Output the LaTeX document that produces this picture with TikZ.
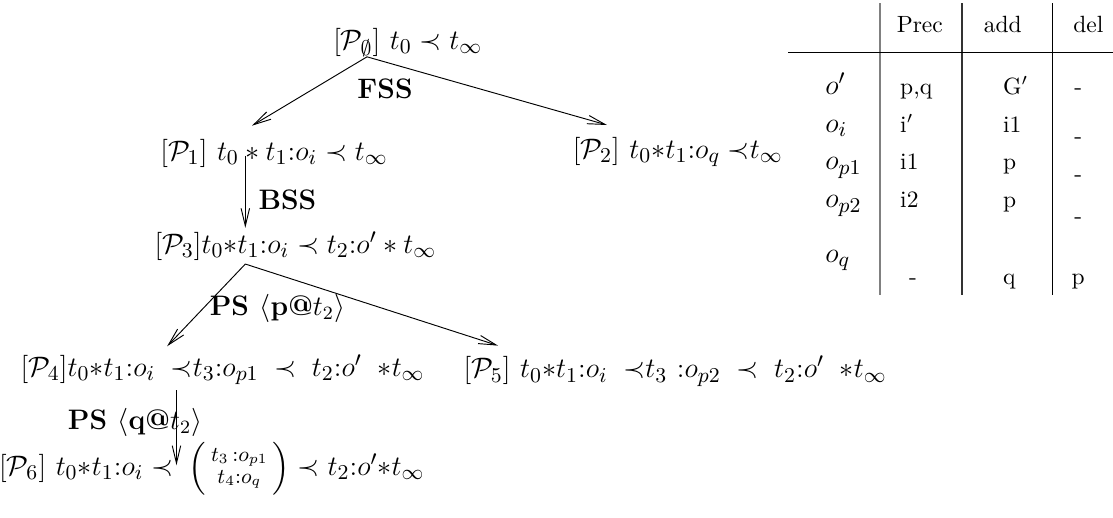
\documentclass[tikz,border=0pt]{standalone}
\usepackage{amsmath, amssymb}
\usepackage{xcolor}
\usepackage{tikz}
\usetikzlibrary{arrows.meta, positioning, calc}

\newcommand{\planfont}{\fontsize{12.5}{15}\selectfont}

\begin{document}
\begin{tikzpicture}[
    plan/.style={inner sep=0pt, font=\planfont},
    rulelbl/.style={inner sep=0pt, font=\fontsize{12}{14}\selectfont\bfseries},
    cell/.style={inner sep=0pt, anchor=base west},
    mid/.style={inner sep=0pt, anchor=base},
    arr/.style={-{Straight Barb[length=7.5pt, width=3.6pt]}}
  ]
  \useasboundingbox (0,0) rectangle (16.65,-7.735);
  % Plans
  \node[plan] (p0) at (6.10,-0.64) {$[\mathcal{P}_\emptyset]\ t_0 \prec t_\infty$};
  \node[plan] (p1) at (4.10,-2.29) {$[\mathcal{P}_1]\ t_0 * t_1{:}o_i \prec t_\infty$};
  \node[plan] (p2) at (10.14,-2.27) {$[\mathcal{P}_2]\ t_0{*}t_1{:}o_q \;{\prec}t_\infty$};
  \node[plan] (p3) at (4.42,-3.68) {$[\mathcal{P}_3]t_0{*}t_1{:}o_i \prec t_2{:}o' * t_\infty$};
  \node[plan] (p4) at (3.33,-5.53) {$[\mathcal{P}_4]t_0{*}t_1{:}o_i \;\;{\prec}t_3{:}o_{p1} \;\prec\; t_2{:}o' \;\;{*}t_\infty$};
  \node[plan] (p5) at (10.10,-5.55) {$[\mathcal{P}_5]\ t_0{*}t_1{:}o_i \;\;{\prec}t_3\ {:}o_{p2} \;\prec\; t_2{:}o' \;\;{*}t_\infty$};
  \node[plan] (p6) at (3.17,-7.01) {$[\mathcal{P}_6]\ t_0{*}t_1{:}o_i \prec\; \left(\begin{smallmatrix} t_3\,:o_{p1}\\ t_4{:}o_q\end{smallmatrix}\right) \prec t_2{:}o'{*}t_\infty$};
  % Step labels
  \node[rulelbl] (fss) at (5.76,-1.33) {FSS};
  \node[rulelbl] (bss) at (4.30,-2.99) {BSS};
  \node[rulelbl] (psp) at (4.15,-4.61) {PS $\langle\textbf{p@}t_2\rangle$};
  \node[rulelbl] (psq) at (2.02,-6.32) {PS $\langle\textbf{q@}t_2\rangle$};
  % Arrow ends
  \coordinate (s0) at (5.49,-0.85);
  \coordinate (h1) at (3.77,-1.88);
  \coordinate (h2) at (9.08,-1.87);
  \coordinate (s1) at (3.67,-2.33);
  \coordinate (h3) at (3.67,-3.41);
  \coordinate (s3) at (3.67,-3.95);
  \coordinate (h4) at (2.50,-5.18);
  \coordinate (h5) at (7.45,-5.17);
  \coordinate (s4) at (2.64,-5.84);
  \coordinate (h6) at (2.64,-6.96);
  \draw[arr] (s0) -- (h1);
  \draw[arr] (s0) -- (h2);
  \draw[arr] (s1) -- (h3);
  \draw[arr] (s3) -- (h4);
  \draw[arr] (s3) -- (h5);
  \draw[arr] (s4) -- (h6);
  % Operator table
  \draw[gray, line width=0.8pt] (13.16,-0.045) -- (13.16,-4.41);
  \draw[black!80, line width=0.6pt] (14.39,-0.045) -- (14.39,-4.41);
  \draw (15.75,-0.045) -- (15.75,-4.41);
  \draw (11.79,-0.78) -- (16.65,-0.78);
  \node[mid] (hprec) at (13.76,-0.48) {Prec};
  \node[mid] (hadd) at (15.00,-0.48) {add};
  \node[mid] (hdel) at (16.28,-0.48) {del};
  \foreach \y/\op [count=\r] in {-1.41/{$o'$}, -1.975/{$o_i$}, -2.54/{$o_{p1}$},
                                 -3.11/{$o_{p2}$}, -3.93/{$o_q$}} {
    \node[cell, font=\planfont] (op\r) at (12.34,\y) {\op};
  }
  \foreach \y/\pre [count=\r] in {-1.41/{p,q}, -1.975/{i$'$}, -2.54/i1, -3.11/i2} {
    \node[cell] (pre\r) at (13.46,\y) {\pre};
  }
  \node[mid] (pre5) at (13.66,-4.26) {-};
  \foreach \y/\ad [count=\r] in {-1.41/{G$'$}, -1.975/i1, -2.54/p, -3.11/p, -4.26/q} {
    \node[cell] (add\r) at (15.00,\y) {\ad};
  }
  \foreach \y/\de [count=\r] in {-1.41/-, -2.14/-, -2.72/-, -3.34/-, -4.26/p} {
    \node[mid] (del\r) at (16.13,\y) {\de};
  }
\end{tikzpicture}
\end{document}
